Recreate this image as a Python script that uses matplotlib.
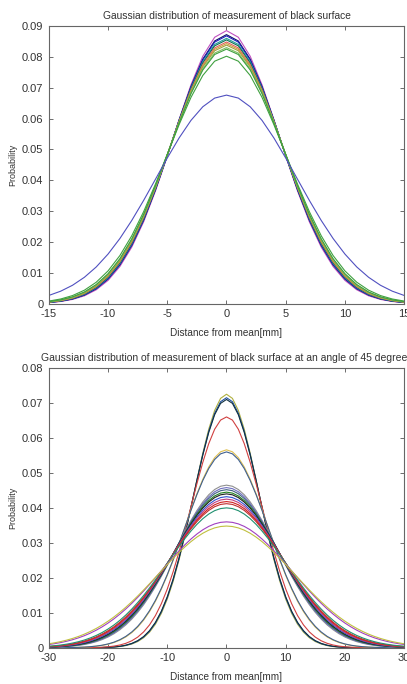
import numpy as np
import matplotlib
matplotlib.use("Agg")
import matplotlib.pyplot as plt

plt.rcParams['font.family'] = ['Liberation Sans', 'DejaVu Sans']
plt.rcParams['axes.unicode_minus'] = False

# peak probability of each fitted gaussian
top_peaks = [0.0885, 0.0872, 0.0868, 0.0860, 0.0855, 0.0848, 0.0843, 0.0838, 0.0830, 0.0825, 0.0802, 0.0676]
top_colors = ['#c050c0', '#101060', '#2020c0', '#20a0a0', '#107050', '#e06060', '#d0a040',
              '#a0a040', '#80c060', '#40a040', '#40a040', '#5050c0']

bot_peaks = [0.0725, 0.0715, 0.0710, 0.0660, 0.0566, 0.0560, 0.0465, 0.0458, 0.0452, 0.0445,
             0.0440, 0.0432, 0.0425, 0.0418, 0.0412, 0.0400, 0.0360, 0.0348]
bot_colors = ['#b0b040', '#2050a0', '#103040', '#d04040', '#e0c050', '#406090', '#909090',
              '#7070c0', '#406080', '#208020', '#202020', '#3050d0', '#c04080', '#d02020',
              '#c03030', '#209070', '#a040c0', '#c0c040']

top_x = np.arange(-15, 16)
bot_x = np.arange(-30, 31)

fig = plt.figure(figsize=(4.07, 6.84), dpi=100)
ax1 = fig.add_axes([0.120, 0.556, 0.873, 0.406])
ax2 = fig.add_axes([0.120, 0.053, 0.873, 0.409])


def gauss(x, peak):
    sigma = 1.0 / (peak * np.sqrt(2 * np.pi))
    return peak * np.exp(-x ** 2 / (2 * sigma ** 2))


for p, c in zip(top_peaks, top_colors):
    ax1.plot(top_x, gauss(top_x, p), color=c, lw=0.8)
for p, c in zip(bot_peaks, bot_colors):
    ax2.plot(bot_x, gauss(bot_x, p), color=c, lw=0.8)

ax1.set_xlim(-15, 15)
ax1.set_ylim(0, 0.09)
ax1.set_xticks(np.arange(-15, 16, 5))
ax1.set_yticks(np.arange(0, 0.091, 0.01))
ax1.set_yticklabels(['0'] + ['%.2f' % v for v in np.arange(0.01, 0.091, 0.01)])
ax1.set_title('Gaussian distribution of measurement of black surface', fontsize=7.4, pad=5, color='#333333')

ax2.set_xlim(-30, 30)
ax2.set_ylim(0, 0.08)
ax2.set_xticks(np.arange(-30, 31, 10))
ax2.set_yticks(np.arange(0, 0.081, 0.01))
ax2.set_yticklabels(['0'] + ['%.2f' % v for v in np.arange(0.01, 0.081, 0.01)])
ax2.set_title('Gaussian distribution of measurement of black surface at an angle of 45 degrees',
              fontsize=7.5, pad=5, color='#333333')

for ax in (ax1, ax2):
    ax.set_xlabel('Distance from mean[mm]', fontsize=7.2, color='#333333', labelpad=6)
    ax.set_ylabel('Probability', fontsize=6.5, color='#333333', labelpad=3)
    ax.tick_params(direction='in', top=True, right=True, length=3, width=0.6,
                   labelsize=8, colors='#555555', labelcolor='#333333', pad=4)
    for s in ax.spines.values():
        s.set_color('#666666')
        s.set_linewidth(0.8)

fig.savefig('out.png', dpi=100)
